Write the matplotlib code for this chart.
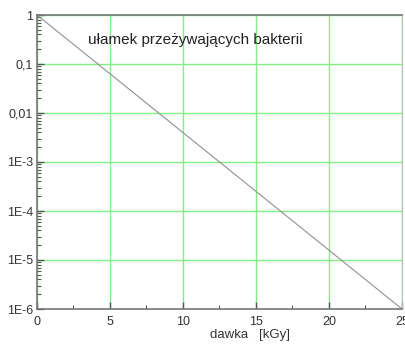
import matplotlib.pyplot as plt
import matplotlib.ticker as ticker

plt.rcParams['font.family'] = ['Liberation Sans', 'DejaVu Sans']

dose = [0, 25]
fraction = [1, 1e-6]
ytick_vals = [1, 0.1, 0.01, 1e-3, 1e-4, 1e-5, 1e-6]
ytick_labels = ['1', '0,1', '0,01', '1E-3', '1E-4', '1E-5', '1E-6']

fig = plt.figure(figsize=(4.06, 3.45), dpi=100)
ax = fig.add_axes([37 / 406, 36 / 345, 365 / 406, 294 / 345])

ax.plot(dose, fraction, color='#909090', linewidth=0.8)
ax.set_yscale('log')
ax.set_xlim(0, 25)
ax.set_ylim(1e-6, 1)

ax.set_xticks([0, 5, 10, 15, 20, 25])
ax.set_xticklabels(['0', '5', '10', '15', '20', '25'])
ax.xaxis.set_minor_locator(ticker.MultipleLocator(2.5))
ax.set_yticks(ytick_vals)
ax.set_yticklabels(ytick_labels)
ax.yaxis.set_minor_locator(ticker.LogLocator(base=10, subs=range(2, 10), numticks=20))
ax.yaxis.set_minor_formatter(ticker.NullFormatter())

ax.tick_params(which='both', direction='in', colors='#555555', labelcolor='#333333',
               labelsize=9, top=False, right=False)
ax.tick_params(which='major', length=5, width=1)
ax.tick_params(which='minor', length=3, width=0.8)
ax.tick_params(axis='x', pad=5)
ax.tick_params(axis='y', pad=3)

ax.grid(True, which='major', color='#80f080', linewidth=1)
ax.set_axisbelow(True)

for side in ['left', 'bottom', 'top']:
    ax.spines[side].set_color('#777777')
    ax.spines[side].set_linewidth(1.2)
ax.spines['right'].set_color('#bbbbbb')

ax.text(0.14, 0.915, 'ułamek przeżywających bakterii', transform=ax.transAxes,
        fontsize=11, color='#222222', va='center', ha='left')
fig.text(250 / 406, 1 - 335 / 345, 'dawka   [kGy]', fontsize=9.5, color='#333333',
         ha='center', va='center')

fig.savefig('out.png', dpi=100)
